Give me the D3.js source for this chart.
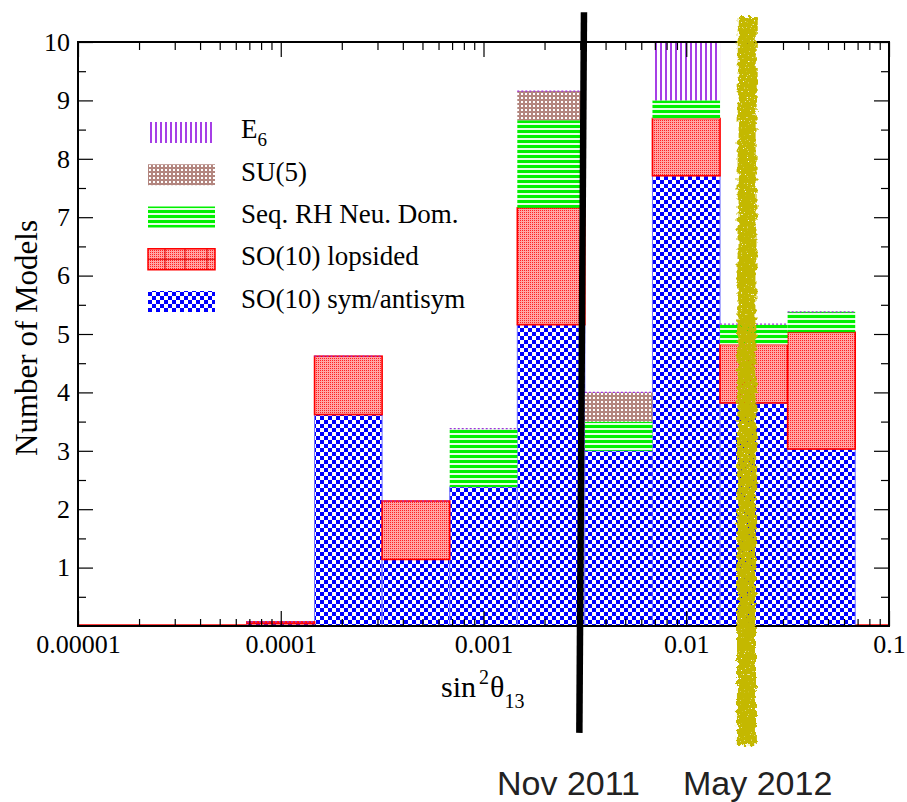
<!DOCTYPE html>
<html>
<head>
<meta charset="utf-8">
<script src="https://cdn.jsdelivr.net/npm/d3@7"></script>
<style>
  html, body { margin: 0; padding: 0; background: #fff; }
  svg { display: block; }
  .serif { font-family: "Liberation Serif", "Times New Roman", serif; fill: #000; }
</style>
</head>
<body>
<svg id="chart" width="907" height="802"></svg>
<script>
// Histogram bins of sin^2(theta_13), one-third of a decade wide
const binEdges = [6.81e-5, 1.468e-4, 3.162e-4, 6.813e-4, 1.468e-3, 3.162e-3, 6.813e-3, 1.468e-2, 3.162e-2, 6.813e-2];

// Number of models per bin, by model class (stacked bottom to top)
const soSymAntisym = [0.04, 3.62, 1.14, 2.38, 5.16, 3.00, 7.71, 3.82, 3.03];
const soLopsided   = [0.03, 1.00, 1.00, 0.00, 2.00, 0.00, 0.98, 1.00, 2.00];
const seqRHNeuDom  = [0.00, 0.00, 0.00, 1.00, 1.50, 0.50, 0.31, 0.35, 0.35];
const su5Models    = [0.00, 0.00, 0.00, 0.00, 0.50, 0.50, 0.00, 0.00, 0.00];
const e6Models     = [0.00, 0.00, 0.00, 0.00, 0.00, 0.00, 1.00, 0.00, 0.00];

const seriesKeys   = ["sym", "lop", "seq", "su5", "e6"];
const seriesNames  = ["SO(10) sym/antisym", "SO(10) lopsided", "Seq. RH Neu. Dom.", "SU(5)", "E6"];

// Axis ticks
const xMajorTicks  = [1e-5, 1e-4, 1e-3, 1e-2, 1e-1];
const xTickLabels  = ["0.00001", "0.0001", "0.001", "0.01", "0.1"];
const yMajorTicks  = [1, 2, 3, 4, 5, 6, 7, 8, 9, 10];
const yMinorTicks  = [0.5, 1.5, 2.5, 3.5, 4.5, 5.5, 6.5, 7.5, 8.5, 9.5];

// Measurement dates marked on the histogram (x in sin^2 units, y in model counts)
const novLine  = { label: "Nov 2011", xTop: 0.00313, xBottom: 0.00297, yTop: 10.51, yBottom: -1.83 };
const mayBand  = { label: "May 2012", xTop: 0.0200,  xBottom: 0.0198,  yTop: 10.43, yBottom: -2.04 };

const svg = d3.select("#chart");
const plot = { left: 78, right: 889, top: 42, bottom: 626 };

const x = d3.scaleLog().domain([1e-5, 0.1]).range([plot.left, plot.right]);
const y = d3.scaleLinear().domain([0, 10]).range([plot.bottom, plot.top]);

// ---------- fill patterns ----------
const defs = svg.append("defs");
function pattern(id, w, h, draw) {
  const p = defs.append("pattern").attr("id", id)
    .attr("patternUnits", "userSpaceOnUse").attr("width", w).attr("height", h);
  draw(p);
}
pattern("pBlue", 8, 8, p => {
  p.append("rect").attr("width", 8).attr("height", 8).attr("fill", "#fff");
  p.append("rect").attr("width", 4).attr("height", 4).attr("fill", "#0000ff");
  p.append("rect").attr("x", 4).attr("y", 4).attr("width", 4).attr("height", 4).attr("fill", "#0000ff");
});
pattern("pRed", 2, 2, p => {
  p.append("rect").attr("width", 2).attr("height", 2).attr("fill", "#ffa4a4");
  p.append("rect").attr("width", 1).attr("height", 1).attr("fill", "#ff2020");
});
pattern("pGreen", 5, 5, p => {
  p.append("rect").attr("width", 5).attr("height", 5).attr("fill", "#e4ffe4");
  p.append("rect").attr("width", 5).attr("height", 3).attr("fill", "#00f000");
});
pattern("pBrown", 4, 4, p => {
  p.append("rect").attr("width", 4).attr("height", 4).attr("fill", "#b3867f");
  p.append("rect").attr("x", 1).attr("y", 1).attr("width", 2).attr("height", 2).attr("fill", "#fff");
});
pattern("pPurple", 5, 5, p => {
  p.append("rect").attr("width", 5).attr("height", 5).attr("fill", "#fff");
  p.append("rect").attr("width", 2).attr("height", 5).attr("fill", "#a63fe6");
});

// grainy marker-pen look for the highlighted band
const rough = defs.append("filter").attr("id", "rough")
  .attr("filterUnits", "userSpaceOnUse")
  .attr("x", 690).attr("y", 0).attr("width", 110).attr("height", 802);
rough.append("feTurbulence").attr("type", "fractalNoise").attr("baseFrequency", "0.22")
  .attr("numOctaves", 2).attr("seed", 4).attr("result", "n1");
rough.append("feDisplacementMap").attr("in", "SourceGraphic").attr("in2", "n1")
  .attr("scale", 8).attr("xChannelSelector", "R").attr("yChannelSelector", "G").attr("result", "d");
rough.append("feTurbulence").attr("type", "fractalNoise").attr("baseFrequency", "0.7")
  .attr("numOctaves", 1).attr("seed", 11).attr("result", "n2");
rough.append("feColorMatrix").attr("in", "n2").attr("type", "matrix")
  .attr("values", "0 0 0 0 0  0 0 0 0 0  0 0 0 0 0  0 0 0 -14 10.5").attr("result", "holes");
rough.append("feComposite").attr("in", "d").attr("in2", "holes").attr("operator", "in");

defs.append("clipPath").attr("id", "plotClip").append("rect")
  .attr("x", plot.left).attr("y", plot.top)
  .attr("width", plot.right - plot.left).attr("height", plot.bottom - plot.top);

const styles = {
  sym: { fill: "url(#pBlue)",   stroke: "#7070ff", sw: 1 },
  lop: { fill: "url(#pRed)",    stroke: "#ff0000", sw: 1.6 },
  seq: { fill: "url(#pGreen)",  stroke: "none",    sw: 0 },
  su5: { fill: "url(#pBrown)",  stroke: "none",    sw: 0 },
  e6:  { fill: "url(#pPurple)", stroke: "none",    sw: 0 }
};

// ---------- stacked histogram ----------
const rows = soSymAntisym.map((v, i) => ({
  lo: binEdges[i], hi: binEdges[i + 1],
  sym: v, lop: soLopsided[i], seq: seqRHNeuDom[i], su5: su5Models[i], e6: e6Models[i]
}));
const stacked = d3.stack().keys(seriesKeys)(rows);

// empty bins show up as a red line along the baseline
svg.append("line")
  .attr("x1", x(1e-5)).attr("x2", x(0.1))
  .attr("y1", y(0) - 1).attr("y2", y(0) - 1)
  .attr("stroke", "#ff0000").attr("stroke-width", 1.5);

const bars = svg.append("g").attr("clip-path", "url(#plotClip)");
stacked.forEach(s => {
  const st = styles[s.key];
  bars.append("g").selectAll("rect")
    .data(s.filter(d => d[1] - d[0] > 0))
    .join("rect")
    .attr("x", d => x(d.data.lo))
    .attr("width", d => x(d.data.hi) - x(d.data.lo))
    .attr("y", d => y(d[1]))
    .attr("height", d => y(d[0]) - y(d[1]))
    .attr("fill", st.fill)
    .attr("stroke", st.stroke)
    .attr("stroke-width", st.sw);
});
// zero-height E6 outlines: dotted purple cap on each bin
bars.append("g").selectAll("line")
  .data(stacked[stacked.length - 1].filter(d => d.data.e6 === 0))
  .join("line")
  .attr("x1", d => x(d.data.lo)).attr("x2", d => x(d.data.hi))
  .attr("y1", d => y(d[1])).attr("y2", d => y(d[1]))
  .attr("stroke", "#a030e0").attr("stroke-width", 1.2).attr("stroke-dasharray", "2,2");

// ---------- axes ----------
const xMinorTicks = [];
for (let e = -5; e < -1; e++) for (let m = 2; m <= 9; m++) xMinorTicks.push(m * Math.pow(10, e));

const tickStyle = g => {
  g.select(".domain").remove();
  g.selectAll(".tick line").attr("stroke", "#000").attr("stroke-width", 1.2);
  g.selectAll("text").attr("class", "serif").style("font-size", "26px").attr("fill", "#000");
};

// bottom
svg.append("g").attr("transform", `translate(0,${plot.bottom})`)
  .call(d3.axisBottom(x).tickValues(xMajorTicks).tickSizeInner(-15).tickSizeOuter(0).tickPadding(9)
    .tickFormat((d, i) => xTickLabels[i]))
  .call(tickStyle);
svg.append("g").attr("transform", `translate(0,${plot.bottom})`)
  .call(d3.axisBottom(x).tickValues(xMinorTicks).tickSizeInner(-7).tickSizeOuter(0).tickFormat(""))
  .call(tickStyle);
// top
svg.append("g").attr("transform", `translate(0,${plot.top})`)
  .call(d3.axisTop(x).tickValues(xMajorTicks).tickSizeInner(-15).tickSizeOuter(0).tickFormat(""))
  .call(tickStyle);
svg.append("g").attr("transform", `translate(0,${plot.top})`)
  .call(d3.axisTop(x).tickValues(xMinorTicks).tickSizeInner(-8).tickSizeOuter(0).tickFormat(""))
  .call(tickStyle);
// left
svg.append("g").attr("transform", `translate(${plot.left},0)`)
  .call(d3.axisLeft(y).tickValues(yMajorTicks).tickSizeInner(-15).tickSizeOuter(0).tickPadding(8)
    .tickFormat(d3.format("d")))
  .call(tickStyle);
svg.append("g").attr("transform", `translate(${plot.left},0)`)
  .call(d3.axisLeft(y).tickValues(yMinorTicks).tickSizeInner(-8).tickSizeOuter(0).tickFormat(""))
  .call(tickStyle);
// right
svg.append("g").attr("transform", `translate(${plot.right},0)`)
  .call(d3.axisRight(y).tickValues(yMajorTicks).tickSizeInner(-15).tickSizeOuter(0).tickFormat(""))
  .call(tickStyle);
svg.append("g").attr("transform", `translate(${plot.right},0)`)
  .call(d3.axisRight(y).tickValues(yMinorTicks).tickSizeInner(-8).tickSizeOuter(0).tickFormat(""))
  .call(tickStyle);

// frame
svg.append("rect")
  .attr("x", plot.left).attr("y", plot.top)
  .attr("width", plot.right - plot.left).attr("height", plot.bottom - plot.top)
  .attr("fill", "none").attr("stroke", "#000").attr("stroke-width", 2);

// axis titles
svg.append("text").attr("class", "serif")
  .attr("transform", `translate(37,338) rotate(-90)`)
  .attr("text-anchor", "middle").style("font-size", "31px")
  .text("Number of Models");

const xt = svg.append("text").attr("class", "serif").attr("x", 441).attr("y", 697).style("font-size", "30px");
xt.append("tspan").text("sin");
xt.append("tspan").attr("dy", -13).attr("dx", 3).style("font-size", "20px").text("2");
xt.append("tspan").attr("dy", 13).attr("dx", 1).text("θ");
xt.append("tspan").attr("dy", 11).style("font-size", "20px").text("13");

// ---------- legend ----------
const legendFills = { e6: "url(#pPurple)", su5: "url(#pBrown)", seq: "url(#pGreen)", lop: "url(#pRed)", sym: "url(#pBlue)" };
const legendOrder = ["e6", "su5", "seq", "lop", "sym"];
const legend = svg.append("g");
legendOrder.forEach((k, i) => {
  const top = 122 + i * 42.25;
  const g = legend.append("g");
  g.append("rect").attr("x", 148).attr("y", top).attr("width", 67).attr("height", 21)
    .attr("fill", legendFills[k])
    .attr("stroke", k === "lop" ? "#ff0000" : "none").attr("stroke-width", 1.5);
  if (k === "lop") {
    [165, 185, 207].forEach(vx => g.append("line").attr("x1", vx).attr("x2", vx)
      .attr("y1", top).attr("y2", top + 21).attr("stroke", "#e00000").attr("stroke-width", 1));
    g.append("line").attr("x1", 148).attr("x2", 215).attr("y1", top + 10.5).attr("y2", top + 10.5)
      .attr("stroke", "#e00000").attr("stroke-width", 1);
  }
  const t = g.append("text").attr("class", "serif").attr("x", 241).attr("y", top + 16.5)
    .style("font-size", "27px");
  if (k === "e6") {
    t.attr("y", top + 15.5);
    t.append("tspan").text("E");
    t.append("tspan").attr("dy", 8).style("font-size", "19px").text("6");
  } else {
    t.text(seriesNames[seriesKeys.indexOf(k)]);
  }
});

// ---------- date markers ----------
svg.append("line")
  .attr("x1", x(novLine.xTop)).attr("y1", y(novLine.yTop))
  .attr("x2", x(novLine.xBottom)).attr("y2", y(novLine.yBottom))
  .attr("stroke", "#000").attr("stroke-width", 6.5);

svg.append("line")
  .attr("x1", x(mayBand.xTop)).attr("y1", y(mayBand.yTop))
  .attr("x2", x(mayBand.xBottom)).attr("y2", y(mayBand.yBottom))
  .attr("stroke", "#c4b800").attr("stroke-width", 19)
  .attr("filter", "url(#rough)");

const dateFont = "'Liberation Sans', Arial, Helvetica, sans-serif";
svg.append("text").attr("x", 497).attr("y", 795)
  .style("font-family", dateFont).style("font-size", "34px").attr("fill", "#222")
  .text(novLine.label);
svg.append("text").attr("x", 683).attr("y", 795)
  .style("font-family", dateFont).style("font-size", "34px").attr("fill", "#222")
  .text(mayBand.label);
</script>
</body>
</html>
